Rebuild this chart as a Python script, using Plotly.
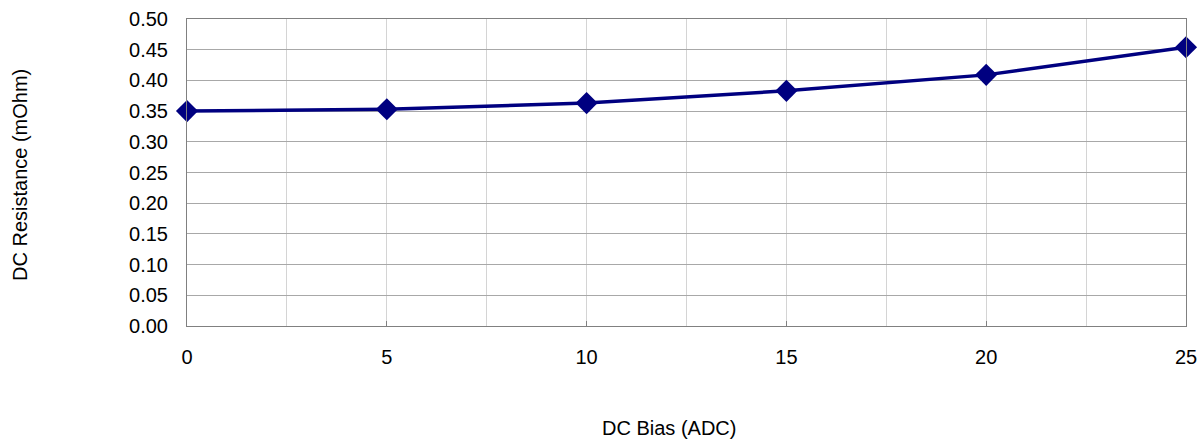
import plotly.graph_objects as go

dc_bias = [0, 5, 10, 15, 20, 25]
resistance = [0.350, 0.353, 0.363, 0.383, 0.409, 0.454]
y_ticks = [0.00, 0.05, 0.10, 0.15, 0.20, 0.25, 0.30, 0.35, 0.40, 0.45, 0.50]
y_tick_labels = [f"{v:.2f}" for v in y_ticks]
x_title = "DC Bias (ADC)"
y_title = "DC Resistance (mOhm)"

W, H = 1204, 439
L, R, T, B = 187, 18, 19, 113

fig = go.Figure()
fig.add_trace(go.Scatter(
    x=dc_bias, y=resistance, mode="lines+markers",
    line=dict(color="#000080", width=3.5),
    marker=dict(symbol="diamond", size=17, color="#000080"),
    showlegend=False, cliponaxis=False,
))

font = "Liberation Sans, Arial, sans-serif"
fig.update_layout(
    width=W, height=H,
    margin=dict(l=L, r=R, t=T, b=B, autoexpand=False),
    plot_bgcolor="white", paper_bgcolor="white",
    font=dict(family=font, size=20, color="black"),
)
fig.update_xaxes(
    range=[0, 25], tickmode="linear", tick0=0, dtick=5,
    showgrid=True, gridcolor="#d4d4d4", gridwidth=1,
    minor=dict(dtick=2.5, showgrid=True, gridcolor="#d4d4d4", gridwidth=1),
    showline=True, linecolor="#808080", linewidth=1, mirror=True,
    ticks="inside", ticklen=5, tickcolor="#808080",
    zeroline=False, automargin=False,
    ticklabelstandoff=13,
    tickfont=dict(size=20),
)
fig.update_yaxes(
    range=[0, 0.5], tickmode="array", tickvals=y_ticks, ticktext=y_tick_labels,
    showgrid=True, gridcolor="#a8a8a8", gridwidth=1,
    showline=True, linecolor="#808080", linewidth=1, mirror=True,
    ticks="", zeroline=False, automargin=False,
    ticklabelstandoff=14,
    tickfont=dict(size=20),
)
pw, ph = W - L - R, H - T - B
fig.add_annotation(text=x_title, xref="paper", yref="paper",
                   x=(669 - L) / pw, y=(H - B - 428) / ph,
                   yanchor="middle", xanchor="center",
                   showarrow=False, font=dict(size=20))
fig.add_annotation(text=y_title, xref="paper", yref="paper",
                   x=(20 - L) / pw, y=(H - B - 175) / ph,
                   textangle=-90, xanchor="center", yanchor="middle",
                   showarrow=False, font=dict(size=20))

fig.write_html("out.html", config={"displayModeBar": False},
               post_script="document.body.style.margin='0';")
